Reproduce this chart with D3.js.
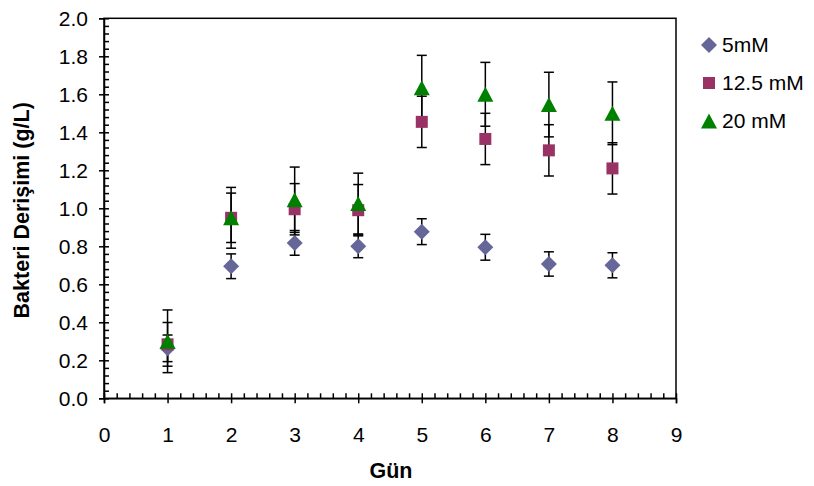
<!DOCTYPE html>
<html>
<head>
<meta charset="utf-8">
<script src="https://cdn.jsdelivr.net/npm/d3@7"></script>
<style>
  html, body { margin: 0; padding: 0; background: #fff; }
  svg { display: block; font-family: "Liberation Sans", Arial, sans-serif; }
</style>
</head>
<body>
<svg id="chart" width="814" height="486"></svg>
<script>
const days = [1, 2, 3, 4, 5, 6, 7, 8];
const seriesNames = ["5mM", "12.5 mM", "20 mM"];
const s5 = [0.263, 0.695, 0.818, 0.80, 0.877, 0.795, 0.707, 0.70];
const e5 = [0.07, 0.065, 0.065, 0.06, 0.068, 0.068, 0.064, 0.066];
const s12 = [0.284, 0.95, 0.995, 0.99, 1.455, 1.365, 1.305, 1.21];
const e12 = [0.115, 0.13, 0.135, 0.135, 0.135, 0.135, 0.135, 0.135];
const s20 = [0.30, 0.95, 1.045, 1.025, 1.635, 1.60, 1.546, 1.50];
const e20 = [0.165, 0.16, 0.172, 0.16, 0.17, 0.168, 0.17, 0.165];
const xTicks = [0, 1, 2, 3, 4, 5, 6, 7, 8, 9];
const yTicks = [0, 0.2, 0.4, 0.6, 0.8, 1.0, 1.2, 1.4, 1.6, 1.8, 2.0];
const xTitle = "Gün";
const yTitle = "Bakteri Derişimi (g/L)";

const colors = ["#666699", "#993366", "#008000"];
const shapes = ["diamond", "square", "triangle"];

const series = [
  { name: seriesNames[0], vals: s5, errs: e5 },
  { name: seriesNames[1], vals: s12, errs: e12 },
  { name: seriesNames[2], vals: s20, errs: e20 }
];

const FS = 21;
const svg = d3.select("#chart");
const L = 104, R = 676, T = 18.3, B = 398.3;
const x = d3.scaleLinear().domain([0, 9]).range([L, R]);
const y = d3.scaleLinear().domain([0, 2]).range([B, T]);

// frame
svg.append("rect").attr("x", L).attr("y", T).attr("width", R - L).attr("height", B - T)
  .attr("fill", "none").attr("stroke", "#000").attr("stroke-width", 1.5);

// minor inner ticks (y)
const yMinor = d3.range(0, 2.0001, 0.04);
svg.append("g").attr("transform", `translate(${L},0)`)
  .call(d3.axisRight(y).tickValues(yMinor).tickSize(5).tickFormat(""))
  .call(g => { g.select(".domain").remove(); g.selectAll("line").attr("stroke", "#000").attr("stroke-width", 1.5); });
// major y axis
svg.append("g").attr("transform", `translate(${L},0)`)
  .call(d3.axisLeft(y).tickValues(yTicks).tickSize(5).tickPadding(11).tickFormat(d3.format(".1f")))
  .call(g => {
    g.select(".domain").attr("stroke", "#000").attr("stroke-width", 1.5);
    g.selectAll("line").attr("stroke", "#000").attr("stroke-width", 1.5);
    g.selectAll("text").attr("font-size", FS).attr("fill", "#000")
      .attr("font-family", "Liberation Sans, Arial, sans-serif");
  });

// minor inner ticks (x)
const xMinor = d3.range(0, 9.0001, 0.2);
svg.append("g").attr("transform", `translate(0,${B})`)
  .call(d3.axisTop(x).tickValues(xMinor).tickSize(5).tickFormat(""))
  .call(g => { g.select(".domain").remove(); g.selectAll("line").attr("stroke", "#000").attr("stroke-width", 1.5); });
svg.append("g").attr("transform", `translate(0,${B})`)
  .call(d3.axisBottom(x).tickValues(xTicks).tickSize(5).tickPadding(24).tickFormat(d3.format("d")))
  .call(g => {
    g.select(".domain").attr("stroke", "#000").attr("stroke-width", 1.5);
    g.selectAll("line").attr("stroke", "#000").attr("stroke-width", 1.5);
    g.selectAll("text").attr("font-size", FS).attr("fill", "#000")
      .attr("font-family", "Liberation Sans, Arial, sans-serif");
  });

// axis titles
svg.append("text").attr("x", (L + R) / 2 + 1).attr("y", 478).attr("text-anchor", "middle")
  .attr("font-size", 21.5).attr("font-weight", "bold").text(xTitle);
svg.append("text").attr("transform", `translate(29,${(T + B) / 2 + 2}) rotate(-90)`)
  .attr("text-anchor", "middle").attr("font-size", 21.5).attr("font-weight", "bold").text(yTitle);

function markerPath(shape) {
  if (shape === "diamond") return "M0,-8L8,0L0,8L-8,0Z";
  if (shape === "square") return "M-6,-6L6,-6L6,6L-6,6Z";
  return "M0,-7.5L8,7.5L-8,7.5Z";
}

// error bars
const cap = 5;
const eb = svg.append("g").attr("stroke", "#000").attr("stroke-width", 1.5);
series.forEach(s => {
  days.forEach((d, i) => {
    const hi = s.vals[i] + s.errs[i], lo = s.vals[i] - s.errs[i];
    eb.append("line").attr("x1", x(d)).attr("x2", x(d)).attr("y1", y(hi)).attr("y2", y(lo));
    eb.append("line").attr("x1", x(d) - cap).attr("x2", x(d) + cap).attr("y1", y(hi)).attr("y2", y(hi));
    eb.append("line").attr("x1", x(d) - cap).attr("x2", x(d) + cap).attr("y1", y(lo)).attr("y2", y(lo));
  });
});

// markers
series.forEach((s, k) => {
  svg.append("g").selectAll("path").data(days).join("path")
    .attr("d", markerPath(shapes[k]))
    .attr("transform", (d, i) => `translate(${x(d)},${y(s.vals[i])})`)
    .attr("fill", colors[k]);
});

// legend
const legY = [45, 83, 121];
series.forEach((s, k) => {
  svg.append("path").attr("d", markerPath(shapes[k]))
    .attr("transform", `translate(709,${legY[k]})`).attr("fill", colors[k]);
  svg.append("text").attr("x", 722).attr("y", legY[k]).attr("dy", "0.35em")
    .attr("font-size", FS).attr("fill", "#000").text(s.name);
});
</script>
</body>
</html>
